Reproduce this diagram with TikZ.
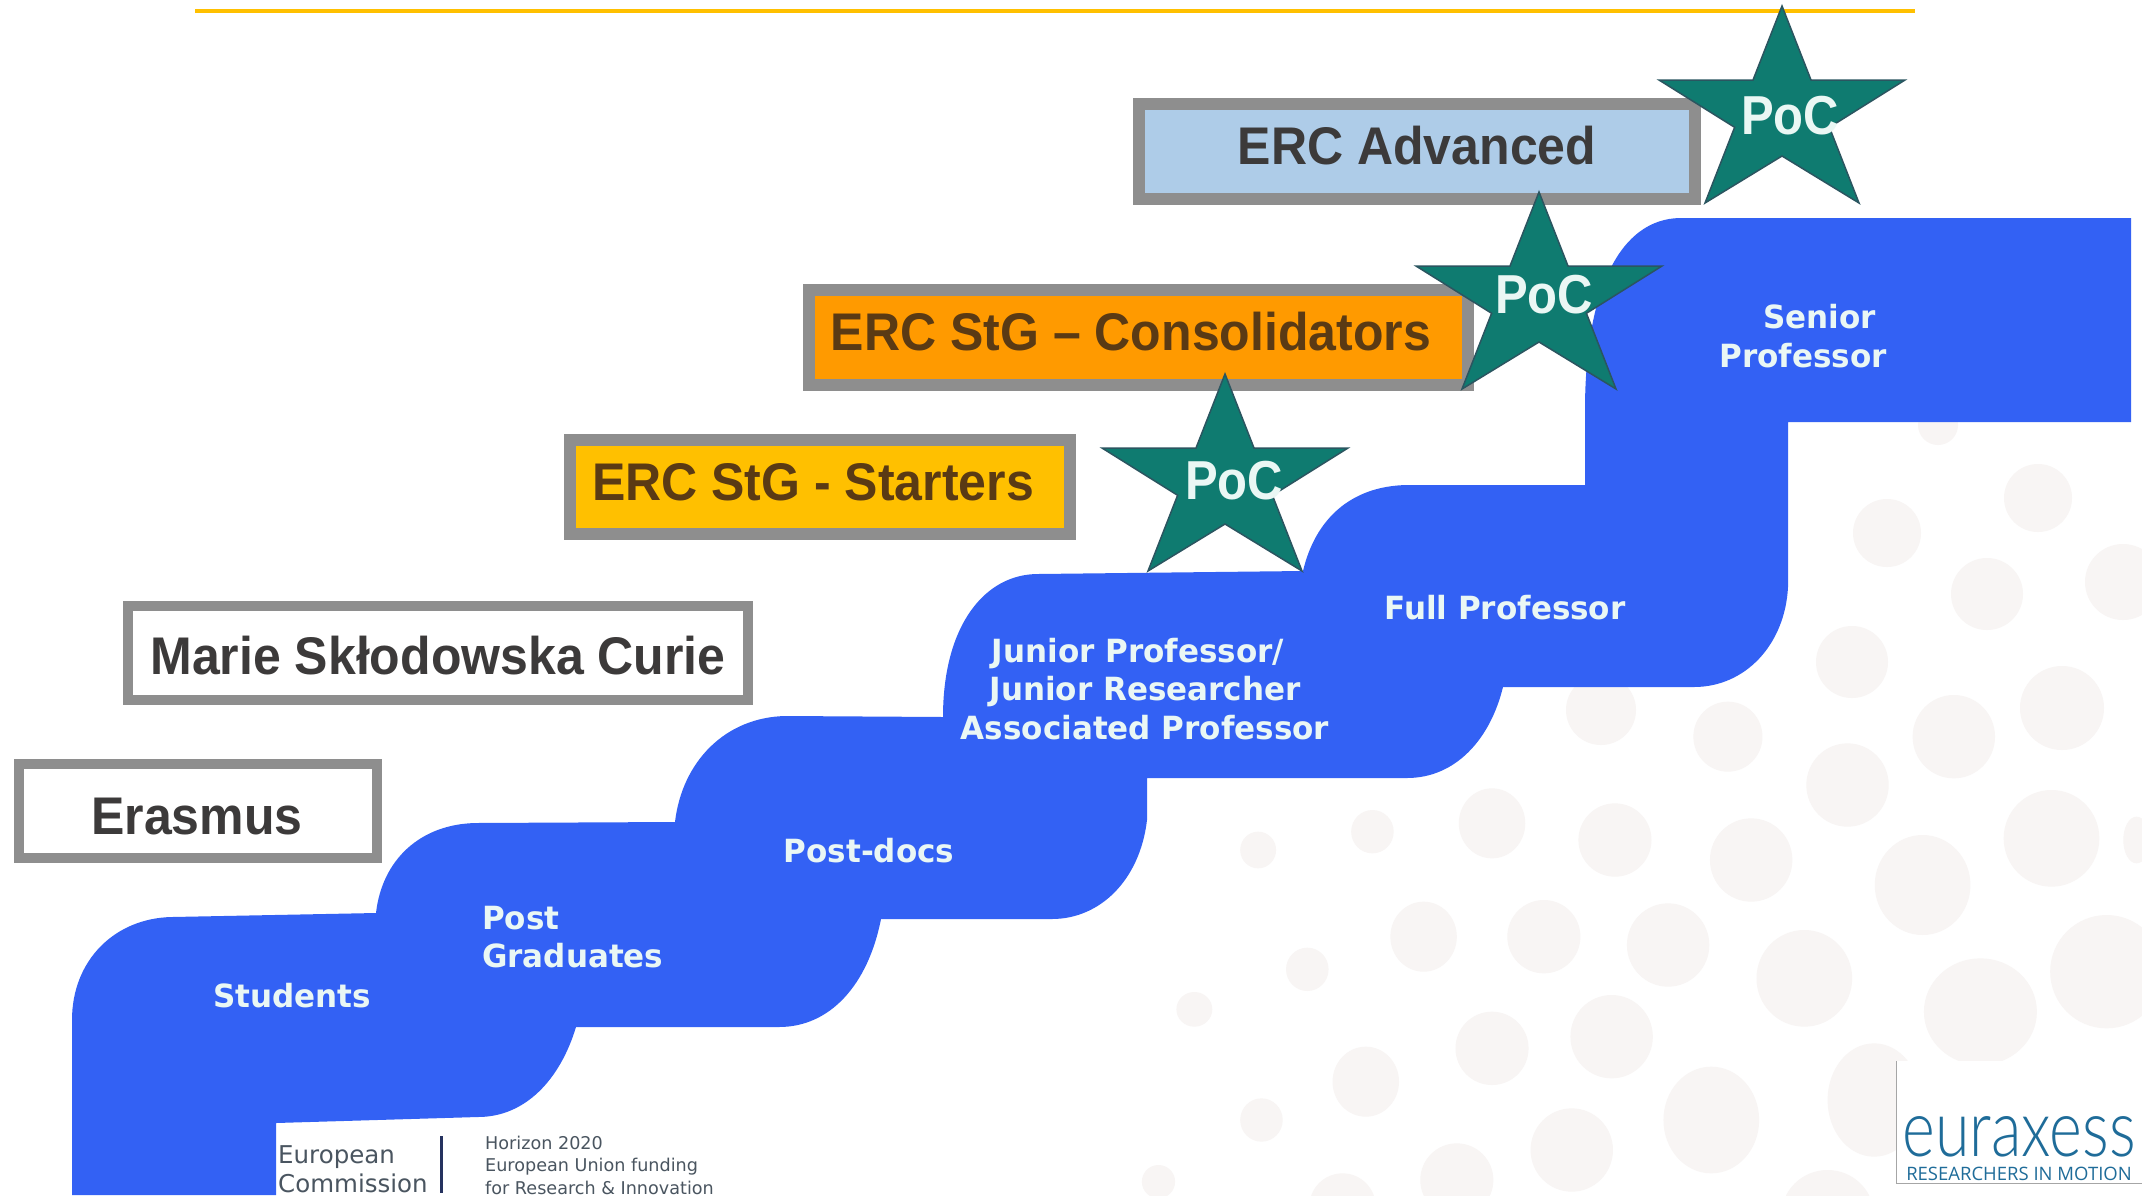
\documentclass[tikz,border=0pt]{standalone}
\usepackage{fontspec}
\setmainfont{Liberation Sans}
\newfontfamily\lblfont{DejaVu Sans}
\newfontfamily\logofont{Lato Light}
\newfontfamily\logosmall{Open Sans}
\definecolor{stepblue}{HTML}{3361F4}
\definecolor{boxgray}{HTML}{8E8E8E}
\definecolor{boxink}{HTML}{3C3A3A}
\definecolor{warmink}{HTML}{5A3A14}
\definecolor{dotgray}{HTML}{F8F5F4}
\definecolor{startealgreen}{HTML}{0F7B70}
\definecolor{starline}{HTML}{2B5560}
\definecolor{pale}{HTML}{EAF7F4}
\definecolor{logoblue}{HTML}{1F6C99}
\definecolor{ecgray}{HTML}{4A5560}
\definecolor{ecbar}{HTML}{25325F}
\definecolor{rulecolor}{HTML}{FFC000}
\definecolor{advblue}{HTML}{AECCE8}
\definecolor{consorange}{HTML}{FF9A00}
\definecolor{startyellow}{HTML}{FFC000}
\tikzset{
  x=1pt,y=1pt,
  box/.style={draw=boxgray,line width=12pt,inner sep=0pt,outer sep=0pt},
  thinbox/.style={draw=boxgray,line width=10pt,inner sep=0pt,outer sep=0pt},
  boxtext/.style={text=boxink,font=\bfseries\fontsize{50}{50}\selectfont,inner sep=0pt,yscale=1.06,transform shape},
  steptext/.style={text=pale,font=\lblfont\bfseries\fontsize{31}{37.5}\selectfont,inner sep=0pt,yscale=1.03,transform shape},
  poc/.style={text=pale,font=\bfseries\fontsize{49}{49}\selectfont,inner sep=0pt,yscale=1.12,transform shape},
  dotty/.style={fill=dotgray,draw=none},
  pocstar/.pic={
    \draw[fill=startealgreen,draw=starline,line width=1.5pt,line join=miter]
      (0,0)--(29,-74)--(123,-74)--(47.4,-121.3)--(77,-197)--(0,-150)--(-77,-197)--(-47.4,-121.3)--(-123,-74)--(-29,-74)--cycle;
  }
}
\begin{document}
\begin{tikzpicture}
\useasboundingbox (0,0) rectangle (2142,-1195);
\fill[white] (0,0) rectangle (2142,-1195);
% background dots
\foreach \X/\Y/\a/\b in {945/110/52/105,1285/110/62/125,1125/255/62/125,590/370/50/105,775/420/55/110,410/395/32/65,238/450/27/55,980/480/62/125,1432/415/72/145,1238/555/72/150,1560/420/20/70,487/710/50/105,668/710/55/110,855/735/62/125,1060/835/72/145,312/808/32/65,142/928/27/52,1515/815/85/170,1325/935/85/160,590/1045/55/110,770/1010/62/125,400/1145/50/105,920/1260/72/160,1165/1200/70/170,243/1260/32/65,710/1350/62/125,537/1440/55/110,88/1445/25/50,365/1520/50/100,1095/1548/70/138}
  \fill[dotty] ({1100+\X/1.505},{-700-\Y/3}) ellipse ({\a/1.505} and {\b/3});
\foreach \x/\y/\r in {1887/533/34,2038/498/34,1987/594/36,2123/582/38,1938/425/20,1852/662/36,1601/710/35,2062/708/42}
  \fill[dotty] (\x,-\y) ellipse ({\r} and {\r});
% blue stairs
\fill[stepblue] (72,-1195) -- (72,-1020)
  .. controls (72,-960) and (115,-918) .. (172,-917) -- (376,-913)
  .. controls (382,-860) and (420,-824) .. (476,-823) -- (675,-822)
  .. controls (682,-762) and (725,-717) .. (786,-716) -- (943,-717)
  .. controls (943,-625) and (985,-574) .. (1038,-574) -- (1303,-571)
  .. controls (1315,-520) and (1350,-486) .. (1407,-485) -- (1585,-485) -- (1585,-410)
  .. controls (1585,-290) and (1620,-219) .. (1680,-218) -- (2131,-218) -- (2131,-422) -- (1788,-422) -- (1788,-587)
  .. controls (1785,-645) and (1745,-687) .. (1694,-687) -- (1503,-687)
  .. controls (1490,-740) and (1455,-778) .. (1407,-778) -- (1147,-778) -- (1147,-820)
  .. controls (1140,-880) and (1100,-919) .. (1052,-919) -- (881,-919)
  .. controls (868,-985) and (830,-1027) .. (779,-1027) -- (576,-1027)
  .. controls (560,-1080) and (525,-1117) .. (478,-1117) -- (276,-1123) -- (276,-1195) -- cycle;
% top rule
\draw[rulecolor,line width=4pt] (195,-11) coordinate (ruleL) -- (1915,-11) coordinate (ruleR);
% boxes
\node[thinbox,fill=white,minimum width=358pt,minimum height=94pt] (erasmus) at (198,-811) {};
\node[thinbox,fill=white,minimum width=620pt,minimum height=94pt] (marie) at (438,-653) {};
\node[box,fill=startyellow,minimum width=500pt,minimum height=94pt] (starters) at (820,-487) {};
\node[box,fill=consorange,minimum width=659pt,minimum height=95pt] (cons) at (1138,-337) {};
\node[box,fill=advblue,minimum width=556pt,minimum height=95pt] (adv) at (1417,-151) {};
\node[boxtext] (erasmusT) at (197,-817) {Erasmus};
\node[boxtext] (marieT) at (438,-656) {Marie Skłodowska Curie};
\node[boxtext,text=warmink] (startersT) at (813,-482) {ERC StG - Starters};
\node[boxtext,text=warmink] (consT) at (1131,-332) {ERC StG – Consolidators};
\node[boxtext] (advT) at (1417,-146) {ERC Advanced};
% stars
\pic at (1782,-6) {pocstar};
\pic at (1539,-192) {pocstar};
\pic at (1225,-374) {pocstar};
\node[poc] (pocA) at (1790,-116) {PoC};
\node[poc] (pocB) at (1544,-295) {PoC};
\node[poc] (pocC) at (1234,-481) {PoC};
% step labels
\node[steptext] (students) at (292,-996) {Students};
\node[steptext,anchor=west,align=left] (post) at (482,-937) {Post\\Graduates};
\node[steptext] (postdocs) at (869,-851) {Post-docs};
\node[steptext,align=center] (junior) at (1145,-689) {Junior Professor/\rule{14pt}{0pt}\\Junior Researcher\\Associated Professor};
\node[steptext] (full) at (1505,-608) {Full Professor};
\node[steptext,align=right] (senior) at (1803,-336) {Senior\rule{11pt}{0pt}\\Professor};
% funder
\node[anchor=west,inner sep=0pt,text=ecgray,align=left,font=\lblfont\fontsize{24.5}{29}\selectfont] (ec) at (278,-1169) {European\\Commission};
\draw[ecbar,line width=3pt] (441.5,-1136) coordinate (barT) -- (441.5,-1193) coordinate (barB);
\node[anchor=west,inner sep=0pt,text=ecgray,align=left,font=\lblfont\fontsize{17.6}{22.5}\selectfont] (h2020) at (485,-1165) {Horizon 2020\\European Union funding\\for Research \& Innovation};
% logo
\fill[white] (1896,-1061) rectangle (2142,-1183);
\draw[gray!70,line width=1pt] (1896,-1061) coordinate (logoA) -- (1896,-1183) coordinate (logoB) -- (2142,-1183) coordinate (logoC);
\node[inner sep=0pt,text=logoblue] (eura) at (2019,-1137) {\resizebox{233pt}{40pt}{\logofont euraxess}};
\node[inner sep=0pt,text=logoblue,font=\logosmall\fontsize{18.5}{18.5}\selectfont] (res) at (2019,-1174) {RESEARCHERS IN MOTION};
\end{tikzpicture}
\end{document}
